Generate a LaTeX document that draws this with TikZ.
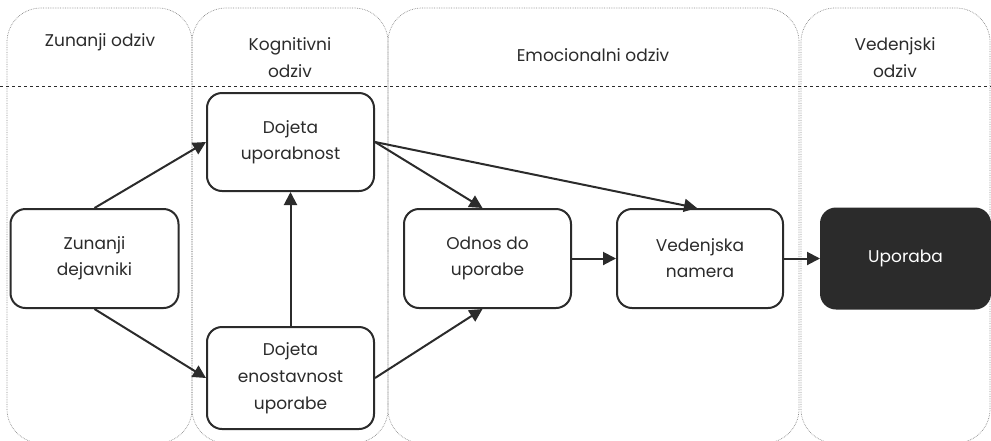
\documentclass[tikz,border=0pt]{standalone}
\usepackage{fontspec}
\setmainfont{Poppins}
\usetikzlibrary{arrows.meta}
\definecolor{ink}{HTML}{2B2B2B}
\definecolor{lanec}{HTML}{8A8A8A}
\tikzset{
  lane/.style={draw=lanec, densely dotted, line width=0.7pt, rounded corners=34pt},
  title/.style={font=\fontsize{17}{27}\selectfont, text=ink, align=center},
  box/.style={draw=ink, line width=2pt, rounded corners=15pt, fill=white,
    minimum width=166pt, minimum height=98pt, align=center, inner sep=0pt,
    font=\fontsize{17}{26}\selectfont, text=ink},
  darkbox/.style={box, fill=ink, text=white},
  arr/.style={draw=ink, line width=2pt, -{Triangle[length=13pt,width=13pt]}},
}
\begin{document}
\begin{tikzpicture}[x=1pt,y=-1pt]
\useasboundingbox (0,0) rectangle (991,440);
% lanes
\draw[lane] (7,8) rectangle (192,443);
\draw[lane] (192,8) rectangle (388,443);
\draw[lane] (388,8) rectangle (799,443);
\draw[lane] (801,8) rectangle (990,443);
\draw[ink, dashed, line width=0.7pt] (0,86) -- (991,86);
% titles
\node[title] (t1) at (100,42) {Zunanji odziv};
\node[title] (t2) at (290,58) {Kognitivni\\odziv};
\node[title] (t3) at (593,55) {Emocionalni odziv};
\node[title] (t4) at (895,58) {Vedenjski\\odziv};
% boxes
\node[box, minimum width=168pt, minimum height=99pt] (zd) at (94.5,258.5) {Zunanji\\dejavniki};
\node[box, minimum width=167pt] (du) at (290.5,142) {Dojeta\\uporabnost};
\node[box, minimum width=167pt, minimum height=102pt, font=\fontsize{17}{27}\selectfont] (de) at (290.5,378) {Dojeta\\enostavnost\\uporabe};
\node[box, minimum width=167pt, minimum height=99pt] (od) at (487.5,258.5) {Odnos do\\uporabe};
\node[box, minimum width=166pt, minimum height=99pt] (vn) at (700,258.5) {Vedenjska\\namera};
\node[darkbox, minimum width=169pt, minimum height=100pt] (up) at (905.5,258.5) {Uporaba};
% arrows
\draw[arr] (zd.north) -- (du.west);
\draw[arr] (zd.south) -- (de.west);
\draw[arr] (de.north) -- (du.south);
\draw[arr] (du.east) -- ([xshift=-5pt]od.north);
\draw[arr] (du.east) -- ([xshift=-3pt]vn.north);
\draw[arr] (de.east) -- ([xshift=-5pt]od.south);
\draw[arr] (od.east) -- (vn.west);
\draw[arr] (vn.east) -- (up.west);
\end{tikzpicture}
\end{document}
